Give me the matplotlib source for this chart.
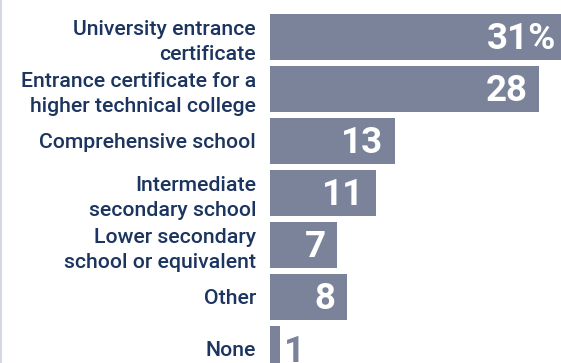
import matplotlib.pyplot as plt
from matplotlib.lines import Line2D

categories = [
    "University entrance\ncertificate",
    "Entrance certificate for a\nhigher technical college",
    "Comprehensive school",
    "Intermediate\nsecondary school",
    "Lower secondary\nschool or equivalent",
    "Other",
    "None",
]
values = [31, 28, 13, 11, 7, 8, 1]
value_labels = ["31%", "28", "13", "11", "7", "8", "1"]

BAR = "#7a8399"
NAVY = "#1c3560"

plt.rcParams["font.family"] = ["Roboto", "DejaVu Sans"]

fig = plt.figure(figsize=(5.61, 3.63), dpi=100)
ax = fig.add_axes([270 / 561, 0, 291 / 561, 1])

y = list(range(len(values)))
ax.barh(y, values, height=0.885, color=BAR)
ax.set_xlim(0, 30.3)
ax.set_ylim((363 - 37) / 52, -37 / 52)

for yi, v, lab in zip(y, values, value_labels):
    if v >= 3:
        ax.text(v - 1.2, yi + 0.03, lab, ha="right", va="center", color="white",
                fontsize=26.5, fontweight="bold")
    else:
        # too small to hold its label, put it after the bar
        ax.text(v + 0.4, yi + 0.06, lab, ha="left", va="center", color=BAR,
                fontsize=26.5, fontweight="bold")

ax.set_yticks(y)
ax.set_yticklabels(categories, fontsize=15.3, color=NAVY, linespacing=1.42,
                   fontweight="medium")
ax.tick_params(axis="y", length=0, pad=10)
ax.set_xticks([])
for s in ax.spines.values():
    s.set_visible(False)

fig.add_artist(Line2D([0.001, 0.001], [0, 1], transform=fig.transFigure,
                      color="#d3d8e2", lw=1.5))

fig.savefig("out.png", dpi=100)
